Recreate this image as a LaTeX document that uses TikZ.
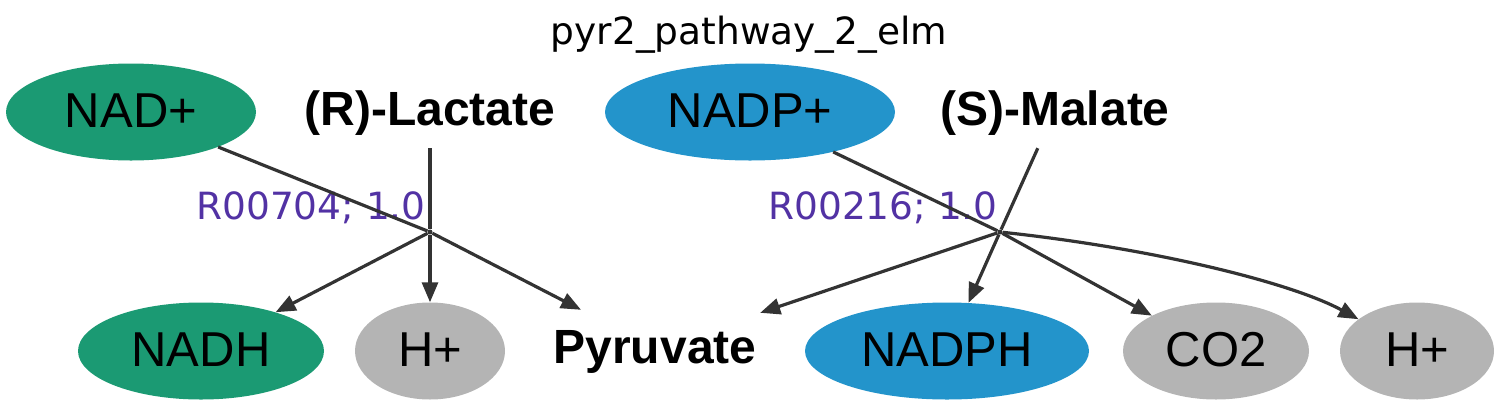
\documentclass[tikz,border=0pt]{standalone}
\usepackage{fontspec}
\setmainfont{Liberation Sans}
\newfontfamily\dejavu{DejaVu Sans}
\usetikzlibrary{shapes.geometric,arrows.meta}
\definecolor{cgreen}{HTML}{1B9A73}
\definecolor{cblue}{HTML}{2394CB}
\definecolor{cgray}{HTML}{B4B4B4}
\definecolor{cedge}{HTML}{333333}
\definecolor{clabel}{HTML}{5232A4}
\tikzset{
  ell/.style={ellipse, inner sep=0pt, minimum height=97pt, text height=32pt, text depth=2pt,
    font=\fontsize{49}{52}\selectfont},
  txt/.style={rectangle, inner sep=0pt, text height=32pt, text depth=2pt,
    font=\fontsize{48}{52}\selectfont\bfseries},
  junc/.style={circle, fill=cedge, inner sep=0pt, minimum size=5pt},
  edge/.style={draw=cedge, line width=3.2pt},
  arr/.style={edge, -{Triangle[length=20pt,width=16pt]}},
  rlabel/.style={anchor=base east, text=clabel, font=\dejavu\fontsize{37.5}{40}\selectfont, inner sep=0pt},
}
\begin{document}
\begin{tikzpicture}[x=1pt,y=-1pt]
\useasboundingbox (0,0) rectangle (1500,408);
\node[anchor=base, inner sep=0pt, font=\dejavu\fontsize{37.5}{40}\selectfont] (title) at (749,44) {pyr2\_pathway\_2\_elm};
% top row
\node[ell, fill=cgreen, minimum width=250pt] (nad) at (131,112) {NAD+};
\node[txt, minimum width=250pt, minimum height=76pt] (lac) at (430,110) {(R)-Lactate};
\node[ell, fill=cblue, minimum width=290pt] (nadp) at (750,112) {NADP+};
\node[txt, minimum width=230pt, minimum height=76pt] (mal) at (1055,110) {(S)-Malate};
% junctions
\node[junc] (j1) at (430,232) {};
\node[junc] (j2) at (1000,232) {};
\node[rlabel] (l1) at (426,219) {R00704; 1.0};
\node[rlabel] (l2) at (998,219) {R00216; 1.0};
% bottom row
\node[ell, fill=cgreen, minimum width=246pt] (nadh) at (201,351) {NADH};
\node[ell, fill=cgray, minimum width=150pt] (hl) at (430,351) {H+};
\node[txt, minimum width=210pt, minimum height=76pt] (pyr) at (655,348) {Pyruvate};
\node[ell, fill=cblue, minimum width=284pt] (nadph) at (947,351) {NADPH};
\node[ell, fill=cgray, minimum width=186pt] (co2) at (1216,351) {CO2};
\node[ell, fill=cgray, minimum width=154pt] (hr) at (1417,351) {H+};
% edges reaction 1
\draw[edge] (nad) -- (j1);
\draw[edge] (lac) -- (j1);
\draw[arr] (j1) -- (nadh);
\draw[arr] (j1) -- (hl);
\draw[arr] (j1) -- (pyr);
% edges reaction 2
\draw[edge] (nadp) -- (j2);
\draw[edge] (mal) -- (j2);
\draw[arr] (j2) -- (pyr);
\draw[arr] (j2) -- (nadph);
\draw[arr] (j2) -- (co2);
\draw[arr] (j2) .. controls (1150,248) and (1290,282) .. (hr);
\end{tikzpicture}
\end{document}
